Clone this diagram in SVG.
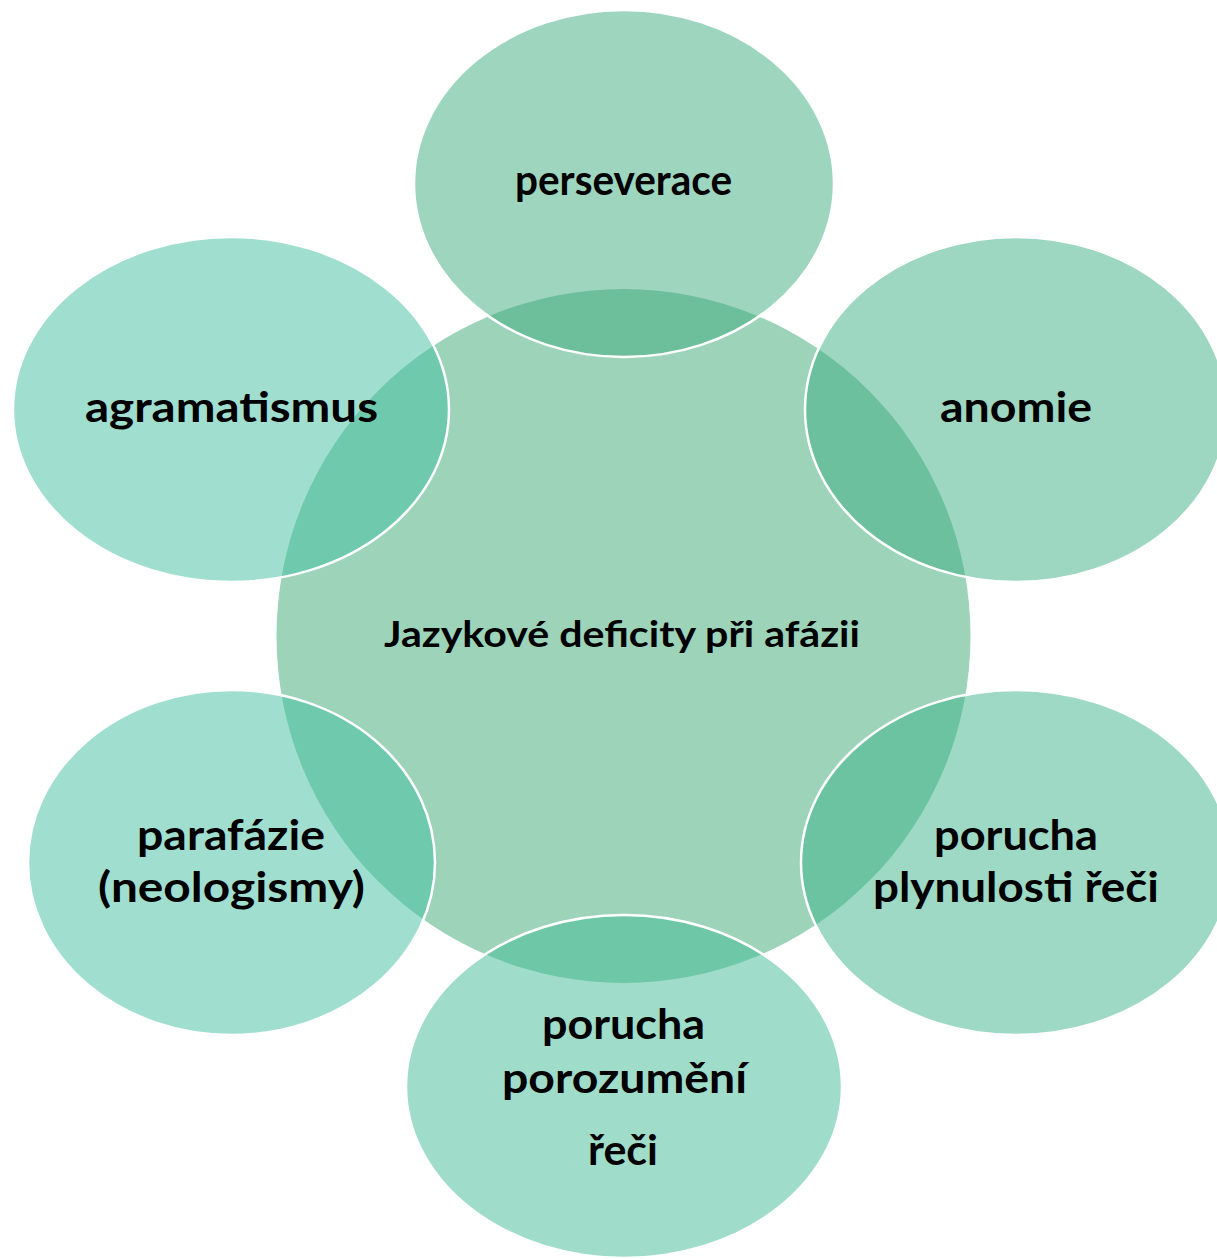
<svg xmlns="http://www.w3.org/2000/svg" width="1217" height="1259" viewBox="0 0 1217 1259">
<style>
.bg{fill:#ffffff}
.center{fill:#9cd3b9}
.outer{stroke:#ffffff;stroke-width:2.5;fill-opacity:0.5}
.lbl{font-family:Lato,"Open Sans","Liberation Sans",sans-serif;font-weight:700;fill:#000000;text-anchor:middle}
.big{font-size:42px}
.mid{font-size:36px}
</style>
<rect class="bg" x="0" y="0" width="1217" height="1259"/>
<g id="node-center">
<circle class="center" cx="623.5" cy="636" r="347"/>
<text class="lbl mid" x="622" y="647" textLength="476" lengthAdjust="spacingAndGlyphs">Jazykové deficity při afázii</text>
</g>
<g id="connectors"></g>
<g id="node-perseverace">
<ellipse class="outer" cx="624" cy="183.5" rx="210" ry="173.5" fill="#3dab7f"/>
<text class="lbl big" x="623.5" y="195" textLength="217" lengthAdjust="spacingAndGlyphs">perseverace</text>
</g>
<g id="node-anomie">
<ellipse class="outer" cx="1016" cy="409.5" rx="211" ry="172.5" fill="#3bad83"/>
<text class="lbl big" x="1016" y="422" textLength="152" lengthAdjust="spacingAndGlyphs">anomie</text>
</g>
<g id="node-plynulost">
<ellipse class="outer" cx="1016" cy="862.5" rx="215" ry="172.5" fill="#3bb38b"/>
<text class="lbl big" x="1016" y="850" textLength="164" lengthAdjust="spacingAndGlyphs">porucha</text>
<text class="lbl big" x="1016" y="902" textLength="286" lengthAdjust="spacingAndGlyphs">plynulosti řeči</text>
</g>
<g id="node-porozumeni">
<ellipse class="outer" cx="624" cy="1086.5" rx="218" ry="171.5" fill="#3fbb95"/>
<text class="lbl big" x="623.5" y="1039" textLength="163" lengthAdjust="spacingAndGlyphs">porucha</text>
<text class="lbl big" x="624.5" y="1093" textLength="245" lengthAdjust="spacingAndGlyphs">porozumění</text>
<text class="lbl big" x="623" y="1165" textLength="70" lengthAdjust="spacingAndGlyphs">řeči</text>
</g>
<g id="node-parafazie">
<ellipse class="outer" cx="231.5" cy="862.5" rx="203.5" ry="172.5" fill="#41bfa1"/>
<text class="lbl big" x="231" y="850" textLength="188" lengthAdjust="spacingAndGlyphs">parafázie</text>
<text class="lbl big" x="231.5" y="902" textLength="267" lengthAdjust="spacingAndGlyphs">(neologismy)</text>
</g>
<g id="node-agramatismus">
<ellipse class="outer" cx="231" cy="409.5" rx="218" ry="172.5" fill="#41bfa1"/>
<text class="lbl big" x="231.5" y="422" textLength="293" lengthAdjust="spacingAndGlyphs">agramatismus</text>
</g>
</svg>
